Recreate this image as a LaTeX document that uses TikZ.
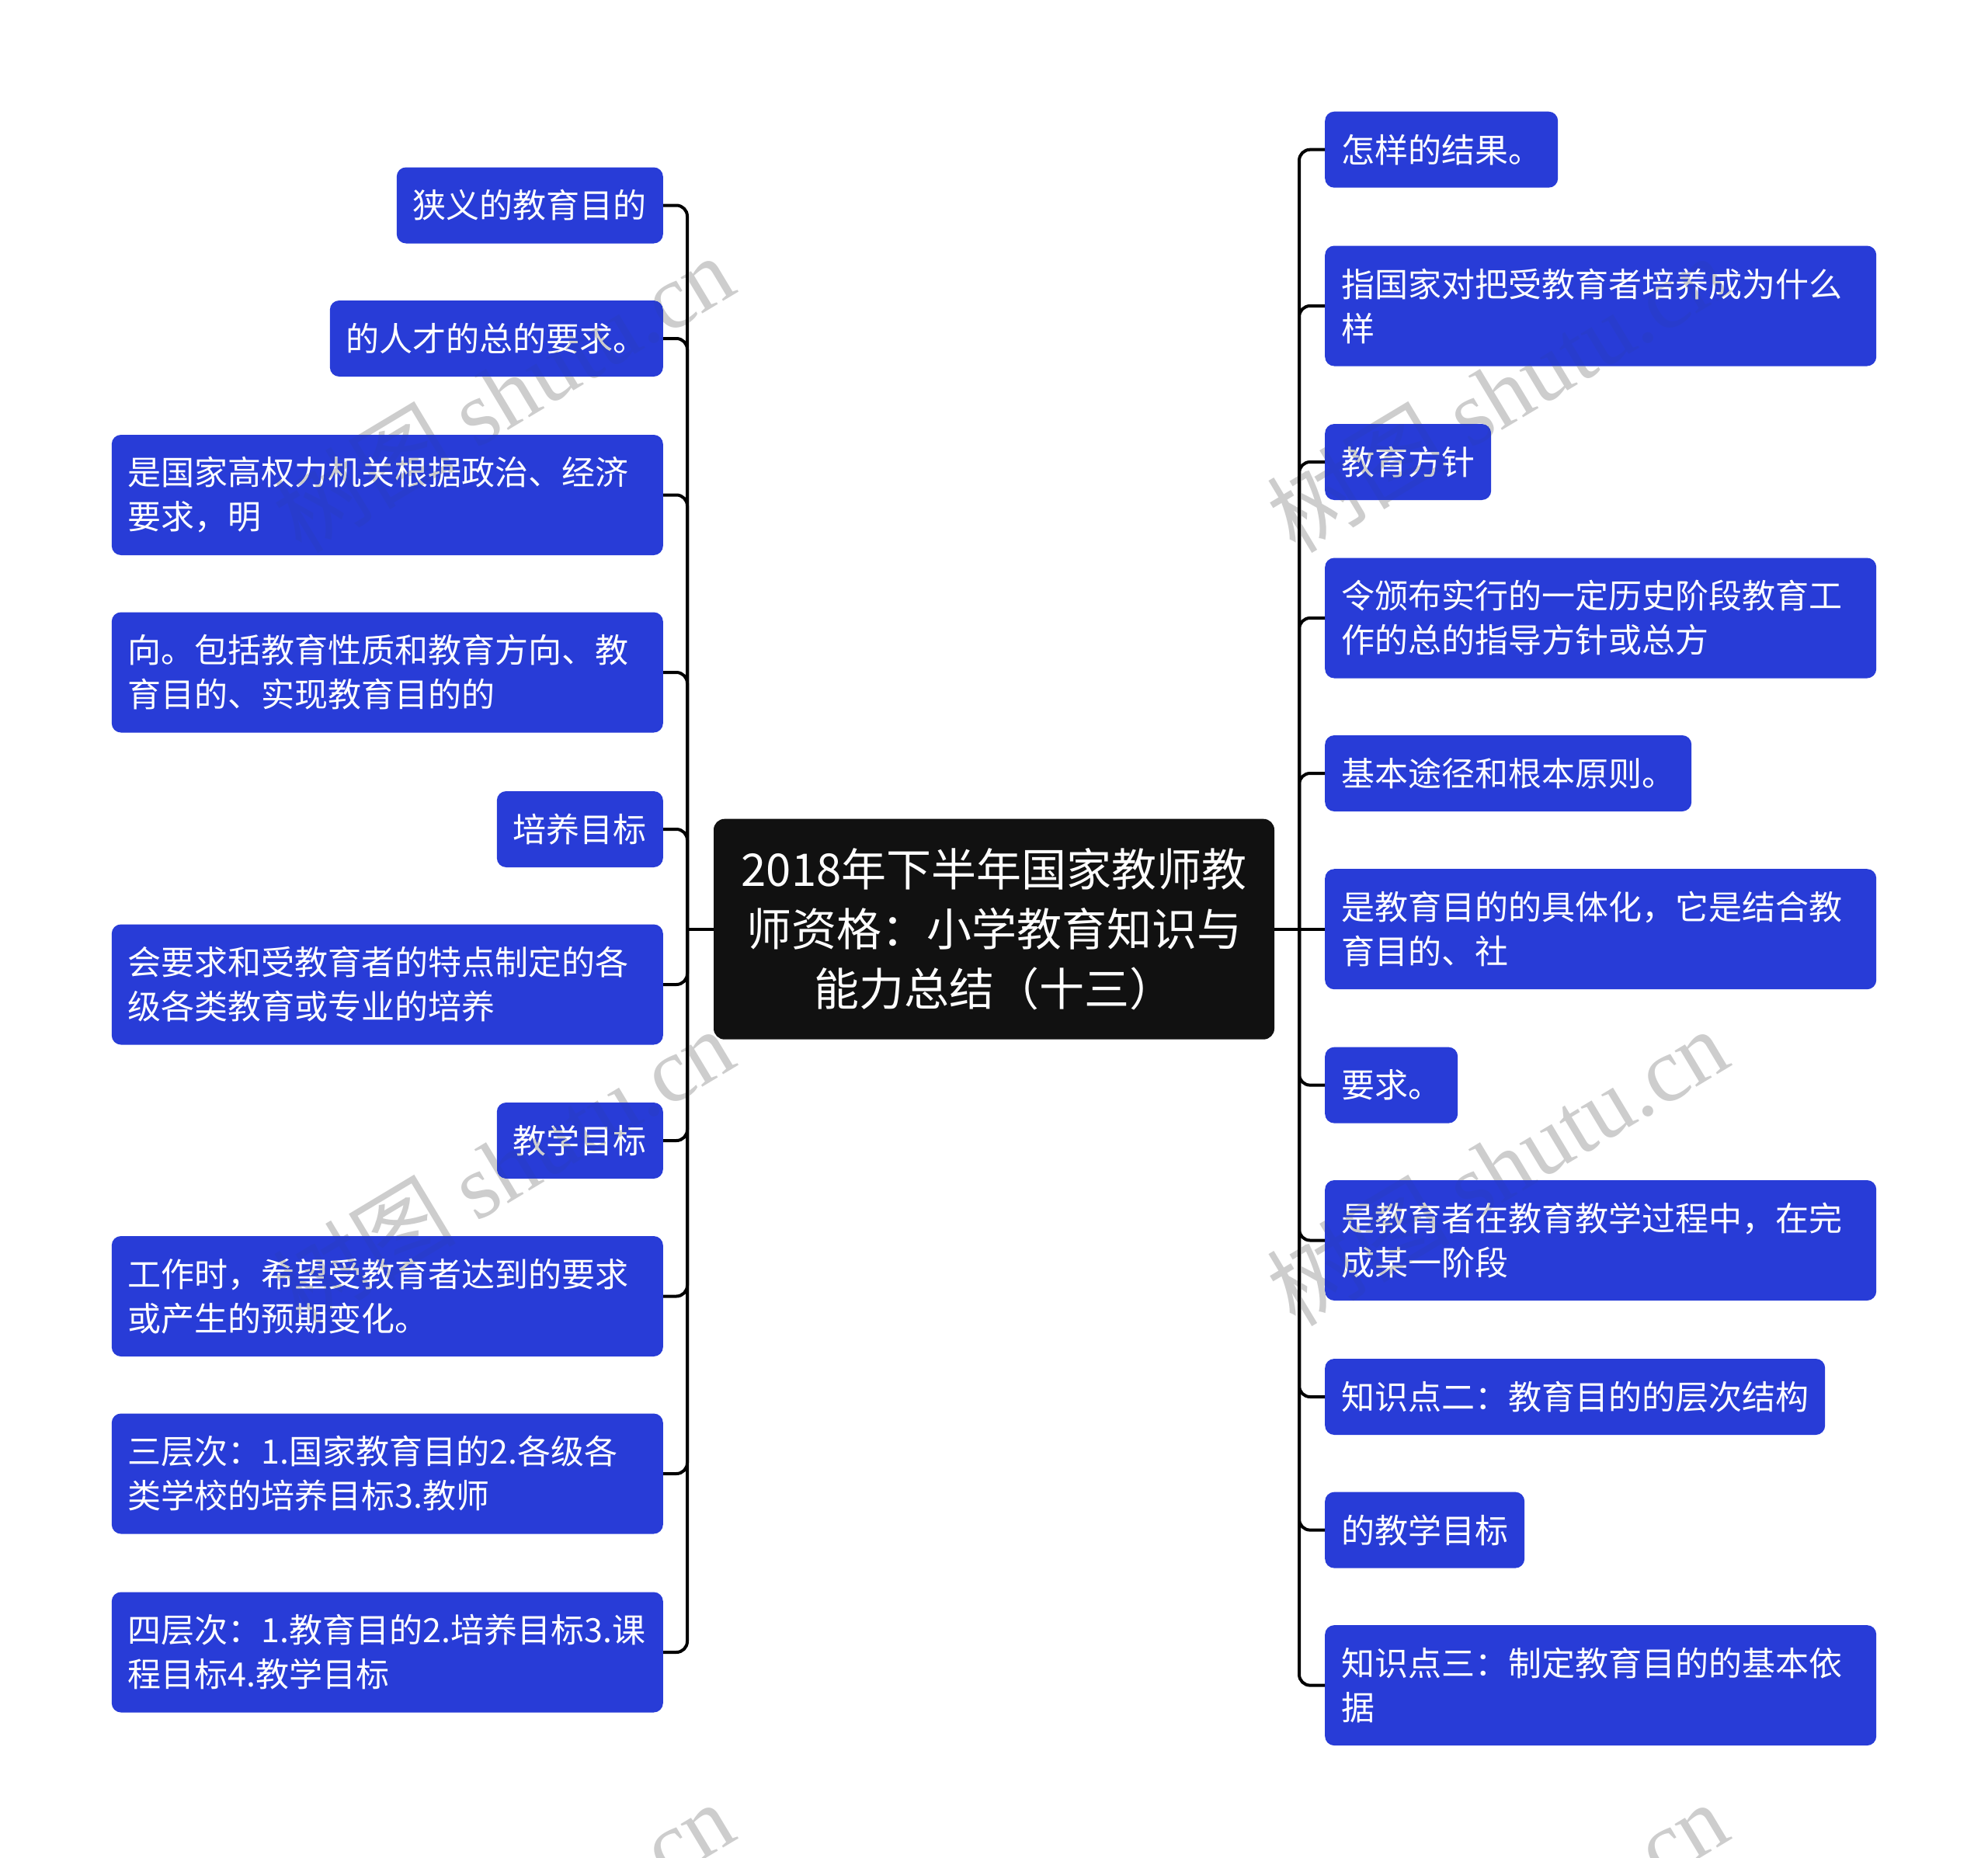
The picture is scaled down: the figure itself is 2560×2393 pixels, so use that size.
\documentclass[tikz,border=0pt]{standalone}
\usepackage{fontspec}
\setmainfont{Noto Sans CJK SC}
\newfontfamily\wmserif{Liberation Serif}
\definecolor{tblue}{RGB}{40,60,215}
\definecolor{cblack}{RGB}{17,17,17}
\definecolor{wmgrey}{RGB}{205,205,205}
\tikzset{
  topic/.style={fill=tblue, rounded corners=12pt, text=white, inner xsep=21pt, inner ysep=0pt,
                font=\fontsize{43}{57}\selectfont, align=left},
  onebox/.style={topic, minimum height=98pt},
  twobox/.style={topic, minimum height=155pt, text width=668pt},
  centerbox/.style={fill=cblack, rounded corners=14pt, text=white, minimum width=722pt,
                minimum height=284pt, inner sep=0pt, align=center,
                font=\fontsize{58}{77}\selectfont},
  conn/.style={draw=black, line width=4pt, rounded corners=14pt},
  wm/.style={text=wmgrey, rotate=31, inner sep=0pt, font=\fontsize{118}{140}\selectfont}
}
\begin{document}
\begin{tikzpicture}[x=1pt,y=-1pt]
\useasboundingbox (0,0) rectangle (2560,2393);
\fill[white] (0,0) rectangle (2560,2393);

% central node
\node[centerbox] (C) at (1280,1196.7) {2018年下半年国家教师教\\师资格：小学教育知识与\\能力总结（十三）};
\coordinate (LJ) at (885,1196.7);
\coordinate (RJ) at (1673,1196.7);

% left nodes
\node[onebox, anchor=east] (L1) at (854,264.5) {狭义的教育目的};
\node[onebox, anchor=east] (L2) at (854,436) {的人才的总的要求。};
\node[twobox, anchor=east] (L3) at (854,637.5) {是国家高权力机关根据政治、经济\\要求，明};
\node[twobox, anchor=east] (L4) at (854,866) {向。包括教育性质和教育方向、教\\育目的、实现教育目的的};
\node[onebox, anchor=east] (L5) at (854,1068) {培养目标};
\node[twobox, anchor=east] (L6) at (854,1268) {会要求和受教育者的特点制定的各\\级各类教育或专业的培养};
\node[onebox, anchor=east] (L7) at (854,1469) {教学目标};
\node[twobox, anchor=east] (L8) at (854,1669.5) {工作时，希望受教育者达到的要求\\或产生的预期变化。};
\node[twobox, anchor=east] (L9) at (854,1898) {三层次：1.国家教育目的2.各级各\\类学校的培养目标3.教师};
\node[twobox, anchor=east] (L10) at (854,2128) {四层次：1.教育目的2.培养目标3.课\\程目标4.教学目标};

% right nodes
\node[onebox, anchor=west] (R1) at (1706,192.7) {怎样的结果。};
\node[twobox, anchor=west] (R2) at (1706,394) {指国家对把受教育者培养成为什么\\样};
\node[onebox, anchor=west] (R3) at (1706,595) {教育方针};
\node[twobox, anchor=west] (R4) at (1706,796) {令颁布实行的一定历史阶段教育工\\作的总的指导方针或总方};
\node[onebox, anchor=west] (R5) at (1706,996) {基本途径和根本原则。};
\node[twobox, anchor=west] (R6) at (1706,1196.7) {是教育目的的具体化，它是结合教\\育目的、社};
\node[onebox, anchor=west] (R7) at (1706,1397.6) {要求。};
\node[twobox, anchor=west] (R8) at (1706,1597.5) {是教育者在教育教学过程中，在完\\成某一阶段};
\node[onebox, anchor=west] (R9) at (1706,1799) {知识点二：教育目的的层次结构};
\node[onebox, anchor=west] (R10) at (1706,1970.6) {的教学目标};
\node[twobox, anchor=west] (R11) at (1706,2170.6) {知识点三：制定教育目的的基本依\\据};

% connectors
\draw[conn] (C.west) -- (LJ);
\draw[conn] (C.east) -- (RJ);
\foreach \n in {L1,L2,L3,L4,L5,L6,L7,L8,L9,L10}{
  \draw[conn] (\n.east) -| (LJ);
}
\foreach \n in {R1,R2,R3,R4,R5,R7,R8,R9,R10,R11}{
  \draw[conn] (\n.west) -| (RJ);
}
\draw[conn] (R6.west) -- (RJ);

% watermarks
\begin{scope}[blend mode=darken]
\node[wm] (W1) at (648,506) {树图 {\wmserif shutu.cn}};
\node[wm] (W2) at (1928,506) {树图 {\wmserif shutu.cn}};
\node[wm] (W3) at (648,1502) {树图 {\wmserif shutu.cn}};
\node[wm] (W4) at (1928,1502) {树图 {\wmserif shutu.cn}};
\node[wm] (W5) at (648,2498) {树图 {\wmserif shutu.cn}};
\node[wm] (W6) at (1928,2498) {树图 {\wmserif shutu.cn}};
\end{scope}
\end{tikzpicture}
\end{document}
